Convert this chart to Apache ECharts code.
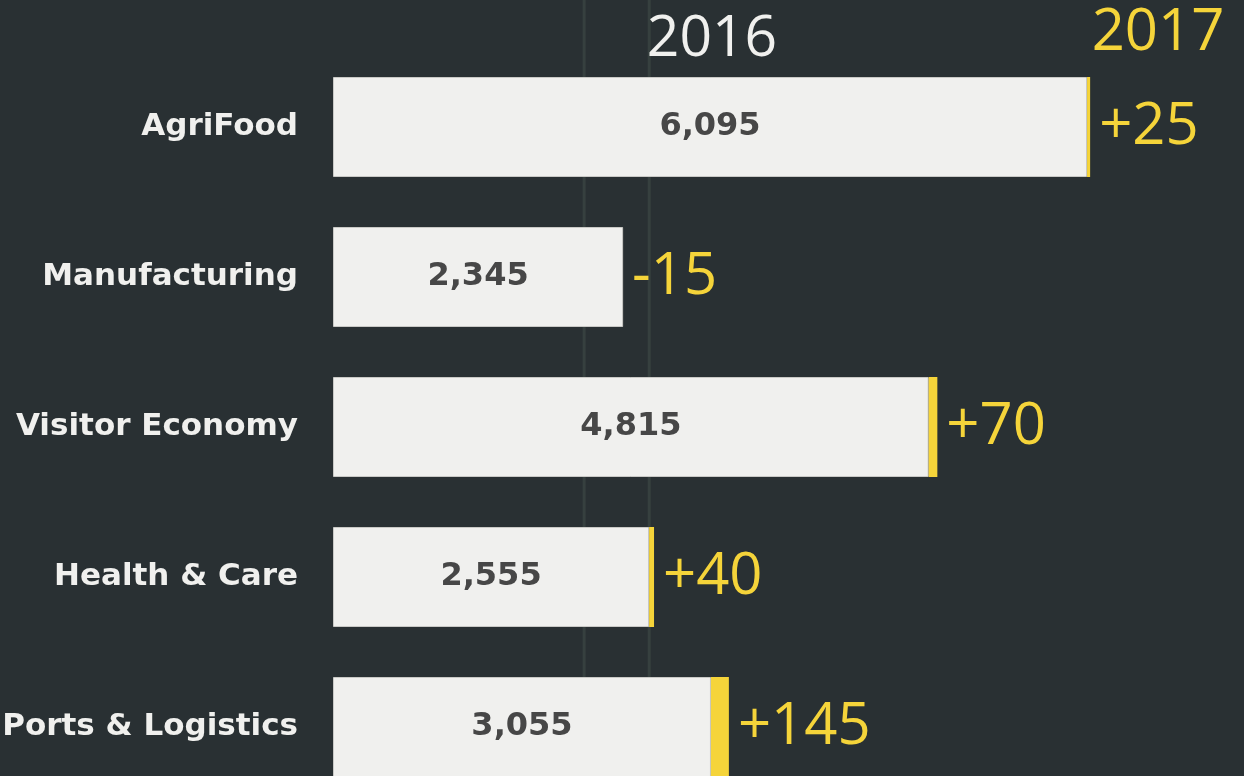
<!DOCTYPE html>
<html>
<head>
<meta charset="utf-8">
<style>
  html, body { margin: 0; padding: 0; background: #293033; }
  #chart { width: 1244px; height: 776px; }
</style>
<script src="https://cdn.jsdelivr.net/npm/echarts@6/dist/echarts.min.js"></script>
</head>
<body>
<div id="chart"></div>
<script>
const categories = ["AgriFood", "Manufacturing", "Visitor Economy", "Health & Care", "Ports & Logistics"];
const values2016 = [6095, 2345, 4815, 2555, 3055];
const changes2017 = [25, -15, 70, 40, 145];
const refLines = [2030, 2556];

const LABEL_FONT = "'DejaVu Sans', sans-serif";
const BIG_FONT = "'Open Sans', 'DejaVu Sans', sans-serif";
const YELLOW = "#f5d43a";
const WHITE = "#f0f0ee";

function fmtChange(v) {
  return (v > 0 ? "+" : "") + v;
}

const chart = echarts.init(document.getElementById("chart"));

const option = {
  backgroundColor: "#293033",
  animation: false,
  grid: { left: 333, top: 52, width: 866, height: 750, outerBoundsMode: "none", containLabel: false },
  xAxis: {
    type: "value",
    min: 0,
    max: 7000,
    show: false,
  },
  yAxis: {
    type: "category",
    inverse: true,
    data: categories,
    axisLine: { show: false },
    axisTick: { show: false },
    axisLabel: {
      margin: 35,
      color: WHITE,
      fontFamily: LABEL_FONT,
      fontWeight: "bold",
      fontSize: 31,
    },
  },
  series: [
    {
      name: "2016",
      type: "bar",
      stack: "total",
      barWidth: 100,
      z: 3,
      itemStyle: { color: WHITE, borderColor: "#c9c9c6", borderWidth: 1 },
      label: {
        show: true,
        position: "inside",
        color: "#474747",
        fontFamily: LABEL_FONT,
        fontWeight: "bold",
        fontSize: 32,
        formatter: (p) => p.value.toLocaleString("en-US"),
      },
      data: values2016,
    },
    {
      name: "2017",
      type: "bar",
      stack: "total",
      barWidth: 100,
      z: 3,
      itemStyle: { color: YELLOW },
      label: {
        show: true,
        position: "right",
        distance: 9,
        color: YELLOW,
        fontFamily: BIG_FONT,
        fontSize: 58,
        formatter: (p) => fmtChange(changes2017[p.dataIndex]),
      },
      data: changes2017.map((c) => Math.max(c, 0)),
    },
  ],
};

chart.setOption(option);

const lineGraphics = refLines.map((v) => {
  const x = chart.convertToPixel({ xAxisIndex: 0 }, v);
  return {
    type: "line",
    z: 0,
    shape: { x1: x, y1: 0, x2: x, y2: 776 },
    style: { stroke: "#36403f", lineWidth: 3 },
  };
});

chart.setOption({
  graphic: [
    ...lineGraphics,
    {
      type: "text",
      x: 712,
      y: 40,
      z: 5,
      style: {
        text: "2016",
        fill: WHITE,
        font: "57px " + BIG_FONT,
        align: "center",
        verticalAlign: "middle",
      },
    },
    {
      type: "text",
      x: 1158,
      y: 33,
      z: 5,
      style: {
        text: "2017",
        fill: YELLOW,
        font: "58px " + BIG_FONT,
        align: "center",
        verticalAlign: "middle",
      },
    },
  ],
});
</script>
</body>
</html>
